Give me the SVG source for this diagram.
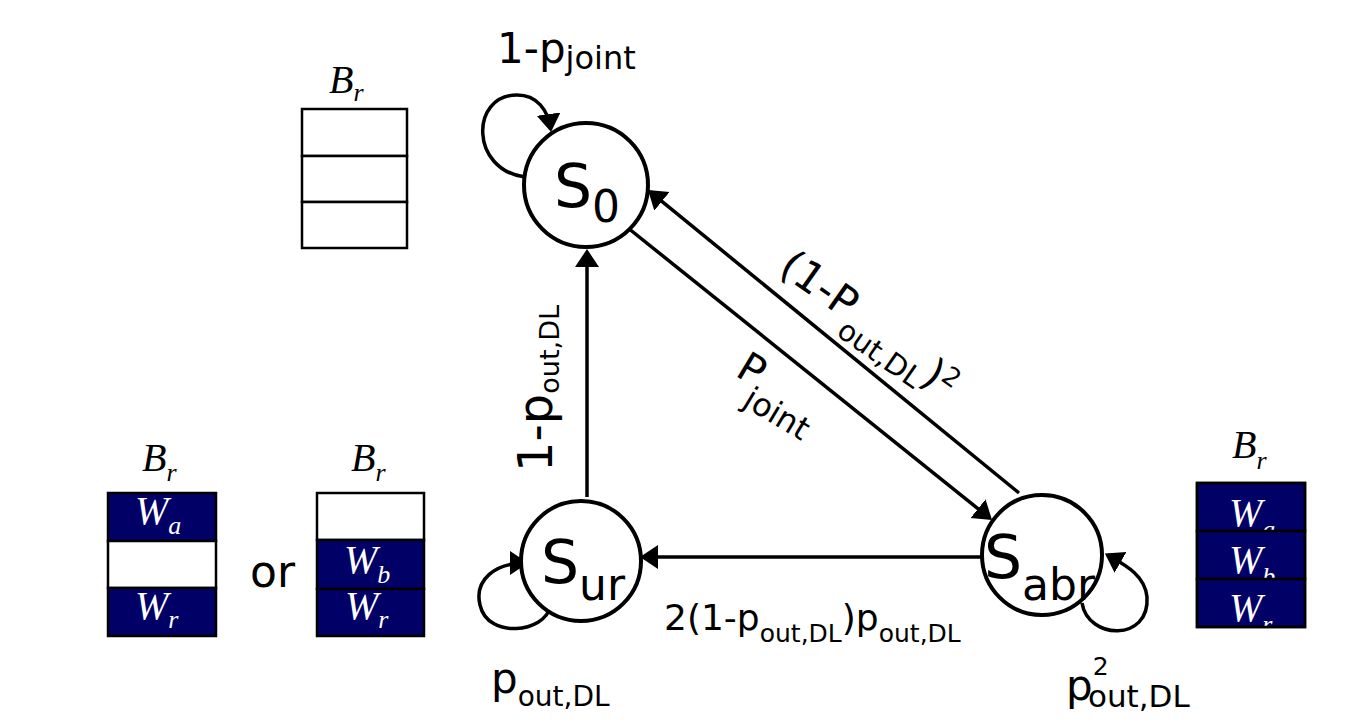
<svg xmlns="http://www.w3.org/2000/svg" width="1372" height="722" viewBox="0 0 1372 722">
<style>
.node circle{fill:#fff;stroke:#000;stroke-width:4}
.edge{stroke:#000;stroke-width:3.5;fill:none;marker-end:url(#ah)}
.lbl{font-family:"DejaVu Sans",sans-serif;fill:#000}
.cell{stroke:#000;stroke-width:2.5}
.navy{fill:#000066}
.white{fill:#fff}
.ser{font-family:"Liberation Serif","Times New Roman",serif;font-style:italic}
.wt{fill:#fff;font-size:40px}
.bt{fill:#000;font-size:40px}
</style>
<defs>
<marker id="ah" markerUnits="userSpaceOnUse" markerWidth="22" markerHeight="26" refX="15" refY="12" orient="auto">
<path d="M0,0 L18,12 L0,24 z" fill="#000"/>
</marker>
<clipPath id="rclip"><rect x="1197" y="483" width="108" height="144"/></clipPath>
</defs>
<rect width="1372" height="722" fill="#fff"/>

<g id="connectors">
<line class="edge" x1="587" y1="497" x2="587" y2="252"/>
<line class="edge" x1="982" y1="557" x2="643" y2="557"/>
<line class="edge" x1="1019" y1="493" x2="650.3" y2="191.9"/>
<line class="edge" x1="628" y1="228" x2="989.7" y2="518.1"/>
<path class="edge" d="M525,177 C470,170 470,95 517,95 C537,95 548,110 550.6,129"/>
<path class="edge" d="M550,607 C545,632 488,640 480,605 C474,580 495,563 525,563"/>
<path class="edge" d="M1082,603 C1088,640 1150,642 1147,597 C1145,575 1125,565 1107.5,555"/>
</g>

<g id="S0" class="node">
<circle cx="586" cy="185" r="62"/>
<text class="lbl" x="554" y="207" font-size="60">S<tspan font-size="44" dy="15">0</tspan></text>
</g>
<g id="Sur" class="node">
<circle cx="581" cy="561" r="60"/>
<text class="lbl" x="541" y="583" font-size="60">S<tspan font-size="44" dy="17">ur</tspan></text>
</g>
<g id="Sabr" class="node">
<circle cx="1042" cy="555" r="60"/>
<text class="lbl" x="984" y="578" font-size="60">S<tspan font-size="44" dy="22">abr</tspan></text>
</g>

<g id="labels">
<text class="lbl" x="497" y="63" font-size="42">1-p<tspan font-size="32" dy="6">joint</tspan></text>
<text class="lbl" transform="translate(552,472) rotate(-90)" font-size="48">1-p<tspan font-size="27" dy="7">out,DL</tspan></text>
<text class="lbl" transform="translate(777,272) rotate(35)" font-size="42">(1-P<tspan font-size="29" dy="18">out,DL</tspan><tspan dy="-10">)</tspan><tspan font-size="26" dy="-13">2</tspan></text>
<text class="lbl" transform="translate(734,375) rotate(31)" font-size="41">P<tspan font-size="32" dx="-3" dy="22">joint</tspan></text>
<text class="lbl" x="664" y="630" font-size="36">2(1-p<tspan font-size="25" dy="12">out,DL</tspan><tspan dy="-12">)p</tspan><tspan font-size="25" dy="12">out,DL</tspan></text>
<text class="lbl" x="491" y="693" font-size="42">p<tspan font-size="28" dy="13">out,DL</tspan></text>
<text class="lbl" x="1066" y="700" font-size="42">p<tspan font-size="25" dy="-25">2</tspan><tspan font-size="31" x="1088" dy="32">out,DL</tspan></text>
<text class="lbl" x="250" y="587" font-size="44">or</text>
</g>

<g id="buffer-s0">
<text class="ser bt" x="329" y="93">B<tspan font-size="26" dy="8">r</tspan></text>
<rect class="cell white" x="302" y="109" width="105" height="47"/>
<rect class="cell white" x="302" y="156" width="105" height="46"/>
<rect class="cell white" x="302" y="202" width="105" height="46"/>
</g>

<g id="buffer-sur-a">
<text class="ser bt" x="142" y="471">B<tspan font-size="26" dy="10">r</tspan></text>
<rect class="cell navy" x="108" y="493" width="108" height="48"/>
<text class="ser wt" x="135" y="524">W<tspan font-size="26" dy="10">a</tspan></text>
<rect class="cell white" x="108" y="541" width="108" height="47"/>
<rect class="cell navy" x="108" y="588" width="108" height="48"/>
<text class="ser wt" x="135" y="619">W<tspan font-size="26" dy="9">r</tspan></text>
</g>

<g id="buffer-sur-b">
<text class="ser bt" x="351" y="471">B<tspan font-size="26" dy="10">r</tspan></text>
<rect class="cell white" x="317" y="493" width="107" height="47"/>
<rect class="cell navy" x="317" y="540" width="107" height="49"/>
<text class="ser wt" x="344" y="573">W<tspan font-size="26" dy="10">b</tspan></text>
<rect class="cell navy" x="317" y="589" width="107" height="47"/>
<text class="ser wt" x="345" y="619">W<tspan font-size="26" dy="9">r</tspan></text>
</g>

<g id="buffer-sabr">
<text class="ser bt" x="1232" y="458">B<tspan font-size="26" dy="11">r</tspan></text>
<rect class="cell navy" x="1197" y="483" width="108" height="48"/>
<text class="ser wt" x="1229" y="526">W<tspan font-size="26" dy="12">a</tspan></text>
<rect class="cell navy" x="1197" y="531" width="108" height="48"/>
<text class="ser wt" x="1229" y="573">W<tspan font-size="26" dy="12">b</tspan></text>
<rect class="cell navy" x="1197" y="579" width="108" height="48"/>
<text class="ser wt" x="1229" y="621" clip-path="url(#rclip)">W<tspan font-size="26" dy="12">r</tspan></text>
<rect x="1197" y="483" width="108" height="144" fill="none" stroke="#000" stroke-width="2.5"/>
</g>
</svg>
